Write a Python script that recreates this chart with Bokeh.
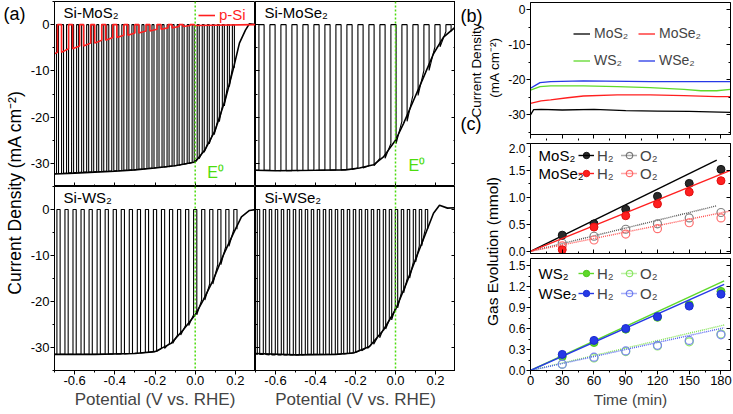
import numpy as np
from bokeh.plotting import figure
from bokeh.layouts import row, column
from bokeh.models import (Range1d, FixedTicker, PrintfTickFormatter, LinearAxis,
                          Span, Label, Legend, LegendItem)
from bokeh.embed import file_html
from bokeh.resources import INLINE

FONT = "Liberation Sans"
E0_GREEN = "#4ddc0e"
RED = "#ff1f1f"
GREEN = "#5fd92a"
BLUE = "#2639e6"

# ======================= DATA =======================
# (a) light LSV envelopes: potential (V vs. RHE), current density (mA cm-2)
mos2_env_v = [-0.70, -0.60, -0.50, -0.40, -0.30, -0.20, -0.10, 0.00, 0.05, 0.10, 0.15, 0.19, 0.22, 0.25, 0.27, 0.30]
mos2_env_j = [-32.3, -32.1, -31.9, -31.7, -31.4, -31.0, -30.5, -29.7, -27.0, -22.8, -16.2, -9.5, -4.0, -1.2, 0.2, 0.0]
mose2_env_v = [-0.70, -0.60, -0.40, -0.25, -0.18, -0.11, -0.06, 0.00, 0.04, 0.09, 0.14, 0.19, 0.24, 0.30]
mose2_env_j = [-31.5, -31.6, -31.5, -31.4, -31.0, -30.3, -28.6, -25.0, -21.4, -16.4, -11.4, -6.3, -2.7, -0.5]
ws2_env_v = [-0.70, -0.50, -0.30, -0.20, -0.12, -0.06, 0.00, 0.04, 0.09, 0.14, 0.19, 0.23, 0.27, 0.30]
ws2_env_j = [-31.5, -31.5, -31.3, -30.9, -29.1, -26.2, -22.9, -19.7, -15.3, -9.9, -5.2, -1.6, -0.2, 0.0]
wse2_env_v = [-0.70, -0.50, -0.30, -0.21, -0.13, -0.06, 0.00, 0.055, 0.105, 0.157, 0.19, 0.22, 0.26, 0.30]
wse2_env_j = [-31.3, -31.6, -31.5, -31.2, -29.8, -26.2, -21.8, -16.0, -10.3, -4.5, -0.8, 0.9, 0.3, 0.4]

# (a) chopped light: potential of each dark interval and the light current next to it
mos2_chop_v = [-0.685, -0.66, -0.635, -0.61, -0.585, -0.56, -0.535, -0.51, -0.485, -0.46, -0.435, -0.41,
               -0.385, -0.36, -0.335, -0.31, -0.285, -0.26, -0.235, -0.21, -0.185, -0.16, -0.135, -0.11,
               -0.085, -0.06, -0.035, -0.01, 0.015, 0.04, 0.065, 0.09, 0.115, 0.14, 0.165, 0.19]
mos2_chop_j = [-32.2, -32.2, -32.1, -32.0, -32.0, -31.9, -31.9, -31.8, -31.8, -31.7, -31.7, -31.6,
               -31.6, -31.5, -31.5, -31.4, -31.3, -31.2, -31.1, -31.0, -30.9, -30.8, -30.7, -30.5,
               -30.4, -30.2, -30.0, -29.8, -29.0, -27.6, -25.8, -23.8, -21.0, -17.6, -13.4, -9.3]
mose2_chop_v = [-0.67, -0.615, -0.56, -0.505, -0.45, -0.395, -0.34, -0.285, -0.23, -0.175, -0.12,
                -0.065, -0.01, 0.045, 0.10, 0.155, 0.21, 0.265]
mose2_chop_j = [-31.5, -31.5, -31.6, -31.6, -31.5, -31.5, -31.5, -31.4, -31.3, -31.0, -30.5,
                -28.9, -25.7, -20.9, -15.3, -9.9, -4.8, -1.5]
ws2_chop_v = [-0.68, -0.64, -0.60, -0.56, -0.52, -0.48, -0.44, -0.40, -0.36, -0.32, -0.28, -0.24,
              -0.20, -0.16, -0.12, -0.08, -0.04, 0.00, 0.04, 0.08, 0.12, 0.16, 0.20]
ws2_chop_j = [-31.5, -31.5, -31.5, -31.5, -31.5, -31.5, -31.4, -31.4, -31.4, -31.3, -31.2, -31.1,
              -30.9, -30.2, -29.1, -27.3, -25.2, -22.9, -19.7, -16.2, -12.0, -8.0, -4.3]
wse2_chop_v = [-0.685, -0.655, -0.625, -0.595, -0.565, -0.535, -0.505, -0.475, -0.445, -0.415,
               -0.385, -0.355, -0.325, -0.295, -0.265, -0.235, -0.205, -0.175, -0.145, -0.115,
               -0.085, -0.055, -0.025, 0.005, 0.035, 0.065, 0.095, 0.125, 0.155]
wse2_chop_j = [-31.5, -31.5, -31.6, -31.6, -31.6, -31.6, -31.6, -31.6, -31.5, -31.5,
               -31.5, -31.5, -31.5, -31.5, -31.4, -31.3, -31.1, -30.7, -30.2, -29.3,
               -27.9, -26.0, -24.0, -21.4, -18.1, -14.9, -11.4, -7.9, -4.2]
psi_start = [-0.70, -6.3]
psi_end = [0.30, 0.0]
psi_chop_v = [-0.675, -0.62, -0.565, -0.51, -0.455, -0.40, -0.345, -0.29, -0.235, -0.18, -0.125, -0.07, -0.015]
psi_chop_j = [-6.0, -5.2, -4.6, -4.0, -3.4, -2.8, -2.3, -1.8, -1.4, -1.0, -0.7, -0.4, -0.2]

# (b) stability: time (min), current density (mA cm-2)
b_mos2_t = [0, 3, 10, 30, 60, 90, 120, 150, 189]
b_mos2_j = [-30.0, -28.5, -28.4, -28.6, -28.4, -28.8, -28.9, -29.0, -29.3]
b_mose2_t = [0, 10, 19, 35, 50, 82, 113, 145, 176, 189]
b_mose2_j = [-26.7, -26.0, -25.7, -25.1, -24.6, -24.3, -24.3, -24.5, -24.8, -24.8]
b_ws2_t = [0, 9, 19, 50, 82, 113, 145, 161, 176, 189]
b_ws2_j = [-22.9, -21.9, -21.7, -21.7, -21.9, -22.2, -22.7, -23.1, -23.1, -22.7]
b_wse2_t = [0, 5, 9, 19, 50, 113, 189]
b_wse2_j = [-22.4, -21.5, -20.8, -20.5, -20.3, -20.5, -20.5]

# (c) gas evolution (mmol) vs time (min)
c_t = [30, 60, 90, 120, 150, 180]
mos2_h2 = [0.30, 0.51, 0.78, 1.02, 1.26, 1.52]
mos2_o2 = [0.15, 0.28, 0.41, 0.51, 0.62, 0.72]
mose2_h2 = [0.03, 0.45, 0.66, 0.88, 1.10, 1.31]
mose2_o2 = [0.10, 0.21, 0.32, 0.42, 0.53, 0.62]
ws2_h2 = [0.20, 0.40, 0.59, 0.76, 0.94, 1.13]
ws2_o2 = [0.09, 0.18, 0.27, 0.35, 0.41, 0.52]
wse2_h2 = [0.23, 0.43, 0.60, 0.77, 0.92, 1.09]
wse2_o2 = [0.09, 0.19, 0.28, 0.36, 0.43, 0.51]
# theoretical lines (start and end points)
mos2_h2_fit_t, mos2_h2_fit = [0, 176], [0.0, 1.69]
mos2_o2_fit_t, mos2_o2_fit = [0, 176], [0.0, 0.845]
mose2_h2_fit_t, mose2_h2_fit = [0, 189], [0.0, 1.50]
mose2_o2_fit_t, mose2_o2_fit = [0, 189], [0.0, 0.75]
ws2_h2_fit_t, ws2_h2_fit = [0, 183], [0.0, 1.28]
ws2_o2_fit_t, ws2_o2_fit = [0, 183], [0.0, 0.65]
wse2_h2_fit_t, wse2_h2_fit = [0, 183], [0.0, 1.23]
wse2_o2_fit_t, wse2_o2_fit = [0, 183], [0.0, 0.61]

# ticks
a_xticks, a_xminor = [-0.6, -0.4, -0.2, 0.0, 0.2], [-0.7, -0.5, -0.3, -0.1, 0.1, 0.3]
a_yticks, a_yminor = [-30, -20, -10, 0], [-35, -25, -15, -5, 5]
b_yticks, b_yminor = [-30, -20, -10, 0], [-35, -25, -15, -5]
c_xticks, c_xminor = [0, 30, 60, 90, 120, 150, 180], [15, 45, 75, 105, 135, 165]
c1_yticks, c1_yminor = [0.0, 0.5, 1.0, 1.5, 2.0], [0.25, 0.75, 1.25, 1.75]
c2_yticks, c2_yminor = [0.0, 0.3, 0.6, 0.9, 1.2, 1.5], [0.15, 0.45, 0.75, 1.05, 1.35]


# ======================= HELPERS =======================
def make_fig(fw, fh, xr, yr, bl=0, br=0, bt=0, bb=0):
    p = figure(frame_width=fw, frame_height=fh, x_range=Range1d(*xr), y_range=Range1d(*yr),
               min_border_left=bl, min_border_right=br, min_border_top=bt, min_border_bottom=bb,
               output_backend="svg", toolbar_location=None, title=None)
    p.grid.visible = False
    p.outline_line_color = "black"
    p.outline_line_alpha = 1.0
    p.outline_line_width = 1
    p.background_fill_color = "white"
    p.border_fill_color = "white"
    return p


def _line_style(ax):
    ax.axis_line_color = "black"
    ax.major_tick_line_color = "black"
    ax.minor_tick_line_color = "black"


def labeled_axis(ax, ticks, minor, fs, fmt):
    """Axis with labels: outward ticks."""
    ax.ticker = FixedTicker(ticks=ticks, minor_ticks=minor)
    _line_style(ax)
    ax.major_tick_in, ax.major_tick_out = 0, 4
    ax.minor_tick_in, ax.minor_tick_out = 0, 2
    ax.major_label_text_font = FONT
    ax.major_label_text_font_size = fs
    ax.major_label_text_color = "black"
    ax.major_label_standoff = 1
    ax.formatter = PrintfTickFormatter(format=fmt)


def bare_axis(ax, positions, tin, tout):
    """Axis without labels: marks drawn as (label-free) minor ticks."""
    ax.ticker = FixedTicker(ticks=[], minor_ticks=positions)
    _line_style(ax)
    ax.major_tick_in, ax.major_tick_out = 0, 0
    ax.minor_tick_in, ax.minor_tick_out = tin, tout


def bare_ticks(p, side, ticks, minor, inward=True):
    """Unlabelled tick marks on one side: long marks at ticks, short marks at minor."""
    if side in ("below", "above"):
        first = p.xaxis[0] if side == "below" else None
    else:
        first = p.yaxis[0] if side == "left" else None
    if first is None:
        first = LinearAxis()
        p.add_layout(first, side)
    bare_axis(first, ticks, 4 if inward else 0, 0 if inward else 4)
    second = LinearAxis()
    bare_axis(second, minor, 2 if inward else 0, 0 if inward else 2)
    second.axis_line_color = None
    p.add_layout(second, side)


def chopped(start, centers, bottoms, w, dark=0.0, end=None):
    xs, ys = [start[0]], [start[1]]
    for c, b in zip(centers, bottoms):
        xs += [c - w / 2, c - w / 2, c + w / 2, c + w / 2]
        ys += [b, dark, dark, b]
    if end is not None:
        xs.append(end[0]); ys.append(end[1])
    return xs, ys


def txt_label(p, x, y, text, size, color="black", align="left", angle=0.0, baseline="middle"):
    p.add_layout(Label(x=x, y=y, text=text, text_font=FONT, text_font_size=size,
                       text_color=color, text_align=align, text_baseline=baseline, angle=angle))


# ======================= PANEL (a) =======================
AX = (-0.7, 0.3)
AY = (-35, 5)
FW_L, FW_R = 201, 200
FH_T, FH_B = 185, 184
BT_A = 1
BL_A = 24
BB_A = 43
H_ALL = BT_A + FH_T + FH_B + BB_A   # 413

panels = []
specs = [
    ("Si-MoS\u2082", mos2_env_v, mos2_env_j, mos2_chop_v, mos2_chop_j, 0.010, True, True),
    ("Si-MoSe\u2082", mose2_env_v, mose2_env_j, mose2_chop_v, mose2_chop_j, 0.026, True, False),
    ("Si-WS\u2082", ws2_env_v, ws2_env_j, ws2_chop_v, ws2_chop_j, 0.016, False, True),
    ("Si-WSe\u2082", wse2_env_v, wse2_env_j, wse2_chop_v, wse2_chop_j, 0.012, False, False),
]
for name, ev, ej, cv, cj, w, top, left in specs:
    fw = FW_L if left else FW_R
    fh = FH_T if top else FH_B
    p = make_fig(fw, fh, AX, AY, bl=BL_A if left else 0, br=0,
                 bt=BT_A if top else 0, bb=0 if top else BB_A)
    if top:
        bare_ticks(p, "below", a_xticks, a_xminor, inward=True)
    else:
        labeled_axis(p.xaxis[0], a_xticks, a_xminor, "13px", "%.1f")
        p.xaxis.axis_label = "Potential (V vs. RHE)"
        p.xaxis.axis_label_text_font = FONT
        p.xaxis.axis_label_text_font_size = "17px"
        p.xaxis.axis_label_text_font_style = "normal"
        p.xaxis.axis_label_standoff = 2
    if left:
        labeled_axis(p.yaxis[0], a_yticks, a_yminor, "13px", "%d")
    else:
        bare_ticks(p, "left", a_yticks, a_yminor, inward=True)
        bare_ticks(p, "right", a_yticks, a_yminor, inward=True)
    p.add_layout(Span(location=0.0, dimension="height", line_color=E0_GREEN,
                      line_dash="2 2", line_width=1.5))
    xs, ys = chopped([ev[0], ej[0]], cv, cj, w)
    p.line(xs, ys, line_color="black", line_width=1.1)
    p.line(ev, ej, line_color="black", line_width=1.6)
    txt_label(p, -0.655, 2.7, name, "15px")
    if top:
        txt_label(p, 0.06 if left else 0.065, -32.0 if left else -30.4, "E\u2070", "16px",
                  color=E0_GREEN)
    if left and top:
        rx, ry = chopped(psi_start, psi_chop_v, psi_chop_j, 0.02, end=psi_end)
        r_psi = p.line(rx, ry, line_color=RED, line_width=1.6)
        leg = Legend(items=[LegendItem(label="p-Si", renderers=[r_psi])], location=(144, 163),
                     glyph_width=17, glyph_height=16, label_standoff=4, padding=0, margin=0,
                     label_text_font=FONT, label_text_font_size="15px", label_text_color=RED,
                     border_line_color=None, background_fill_alpha=0)
        p.add_layout(leg)
    panels.append(p)

colA = column(row(panels[0], panels[1]), row(panels[2], panels[3]))

# side annotation strip for (a): x 0..27
fa = figure(frame_width=27, frame_height=H_ALL, x_range=Range1d(0, 27), y_range=Range1d(H_ALL, 0),
            min_border=0, output_backend="svg", toolbar_location=None, title=None)
fa.axis.visible = False
fa.grid.visible = False
fa.outline_line_color = None
txt_label(fa, 3, 13, "(a)", "18px")
txt_label(fa, 14, 192, "Current Density (mA cm\u207b\u00b2)", "17.5px", align="center", angle=np.pi / 2)

# side annotation strip for (b)/(c): x 452..500
fb = figure(frame_width=48, frame_height=H_ALL, x_range=Range1d(0, 48), y_range=Range1d(H_ALL, 0),
            min_border=0, output_backend="svg", toolbar_location=None, title=None)
fb.axis.visible = False
fb.grid.visible = False
fb.outline_line_color = None
txt_label(fb, 5, 15, "(b)", "18px")
txt_label(fb, 5, 123, "(c)", "18px")
txt_label(fb, 21, 70, "Current Density", "13.5px", align="center", angle=np.pi / 2)
txt_label(fb, 39, 67, "(mA cm\u207b\u00b2)", "13.5px", align="center", angle=np.pi / 2)
txt_label(fb, 37, 251, "Gas Evolution (mmol)", "15.5px", align="center", angle=np.pi / 2)

# ======================= PANEL (b) =======================
CX = (0, 189)
FW_BC = 200
BL_BC, BR_BC = 27, 5
pb = make_fig(FW_BC, 132, CX, (-35.6, 2.1), bl=BL_BC, br=BR_BC, bt=2, bb=9)
bare_ticks(pb, "below", c_xticks, c_xminor, inward=False)
labeled_axis(pb.yaxis[0], b_yticks, b_yminor, "12px", "%d")
bare_ticks(pb, "right", b_yticks, b_yminor, inward=True)
rb1 = pb.line(b_mos2_t, b_mos2_j, line_color="black", line_width=1.3)
rb2 = pb.line(b_mose2_t, b_mose2_j, line_color=RED, line_width=1.3)
rb3 = pb.line(b_ws2_t, b_ws2_j, line_color=GREEN, line_width=1.3)
rb4 = pb.line(b_wse2_t, b_wse2_j, line_color=BLUE, line_width=1.3)
for items, y in ((("MoS\u2082", rb1), ("MoSe\u2082", rb2)), 93), ((("WS\u2082", rb3), ("WSe\u2082", rb4)), 66):
    lg = Legend(items=[LegendItem(label=t, renderers=[r]) for t, r in items], location=(43, y),
                orientation="horizontal", glyph_width=17, glyph_height=15, label_standoff=4,
                label_width=40, spacing=4, padding=0, margin=0, label_text_font=FONT,
                label_text_font_size="14px", border_line_color=None, background_fill_alpha=0)
    pb.add_layout(lg)

# ======================= PANEL (c) =======================
pc1 = make_fig(FW_BC, 110, CX, (-0.04, 2.0), bl=BL_BC, br=BR_BC, bt=0, bb=5)
bare_ticks(pc1, "below", c_xticks, c_xminor, inward=True)
labeled_axis(pc1.yaxis[0], c1_yticks, c1_yminor, "12px", "%.1f")
bare_ticks(pc1, "right", c1_yticks, c1_yminor, inward=True)

pc2 = make_fig(FW_BC, 112, CX, (0, 1.6), bl=BL_BC, br=BR_BC, bt=0, bb=43)
labeled_axis(pc2.xaxis[0], c_xticks, c_xminor, "13px", "%d")
pc2.xaxis.axis_label = "Time (min)"
pc2.xaxis.axis_label_text_font = FONT
pc2.xaxis.axis_label_text_font_size = "15.5px"
pc2.xaxis.axis_label_text_font_style = "normal"
pc2.xaxis.axis_label_standoff = 3
labeled_axis(pc2.yaxis[0], c2_yticks, c2_yminor, "12px", "%.1f")
bare_ticks(pc2, "right", c2_yticks, c2_yminor, inward=True)


def gas_series(p, h2, o2, ht, hf, ot, of, col, fill, line_col, open_col, dot_col):
    lh = p.line(ht, hf, line_color=line_col, line_width=1.4)
    lo = p.line(ot, of, line_color=dot_col, line_width=1.4, line_dash="1 1")
    so = p.scatter(c_t, o2, size=8, marker="circle", fill_color=None, line_color=open_col, line_width=1.2)
    sh = p.scatter(c_t, h2, size=8, marker="circle", fill_color=fill, line_color=col, line_width=1)
    return (sh, lh), (so, lo)


rows_c = [
    (pc1, "MoS\u2082", mos2_h2, mos2_o2, mos2_h2_fit_t, mos2_h2_fit, mos2_o2_fit_t, mos2_o2_fit,
     "#111111", "#2a2a2a", "black", "#808080", "#555555", 1.777, 89),
    (pc1, "MoSe\u2082", mose2_h2, mose2_o2, mose2_h2_fit_t, mose2_h2_fit, mose2_o2_fit_t, mose2_o2_fit,
     "#e01010", RED, RED, "#ff7070", "#ff5050", 1.444, 71),
    (pc2, "WS\u2082", ws2_h2, ws2_o2, ws2_h2_fit_t, ws2_h2_fit, ws2_o2_fit_t, ws2_o2_fit,
     "#4cc21a", GREEN, GREEN, "#8fe86a", "#7ee050", 1.386, 88),
    (pc2, "WSe\u2082", wse2_h2, wse2_o2, wse2_h2_fit_t, wse2_h2_fit, wse2_o2_fit_t, wse2_o2_fit,
     "#1a2bd0", BLUE, BLUE, "#7a86f0", "#5060f0", 1.10, 68),
]
for p, name, h2, o2, ht, hf, ot, of, col, fill, lcol, ocol, dcol, ly, legy in rows_c:
    hr, orr = gas_series(p, h2, o2, ht, hf, ot, of, col, fill, lcol, ocol, dcol)
    txt_label(p, 7.6, ly, name, "15px")
    lg = Legend(items=[LegendItem(label="H\u2082", renderers=list(hr)),
                       LegendItem(label="O\u2082", renderers=list(orr))],
                location=(48, legy), orientation="horizontal", glyph_width=16, glyph_height=18,
                label_standoff=3, label_width=20, spacing=4, padding=0, margin=0,
                label_text_font=FONT, label_text_font_size="15px",
                border_line_color=None, background_fill_alpha=0)
    p.add_layout(lg)

colBC = column(pb, pc1, pc2)

layout = row(fa, colA, fb, colBC)

with open("out.html", "w") as f:
    f.write(file_html(layout, INLINE))
